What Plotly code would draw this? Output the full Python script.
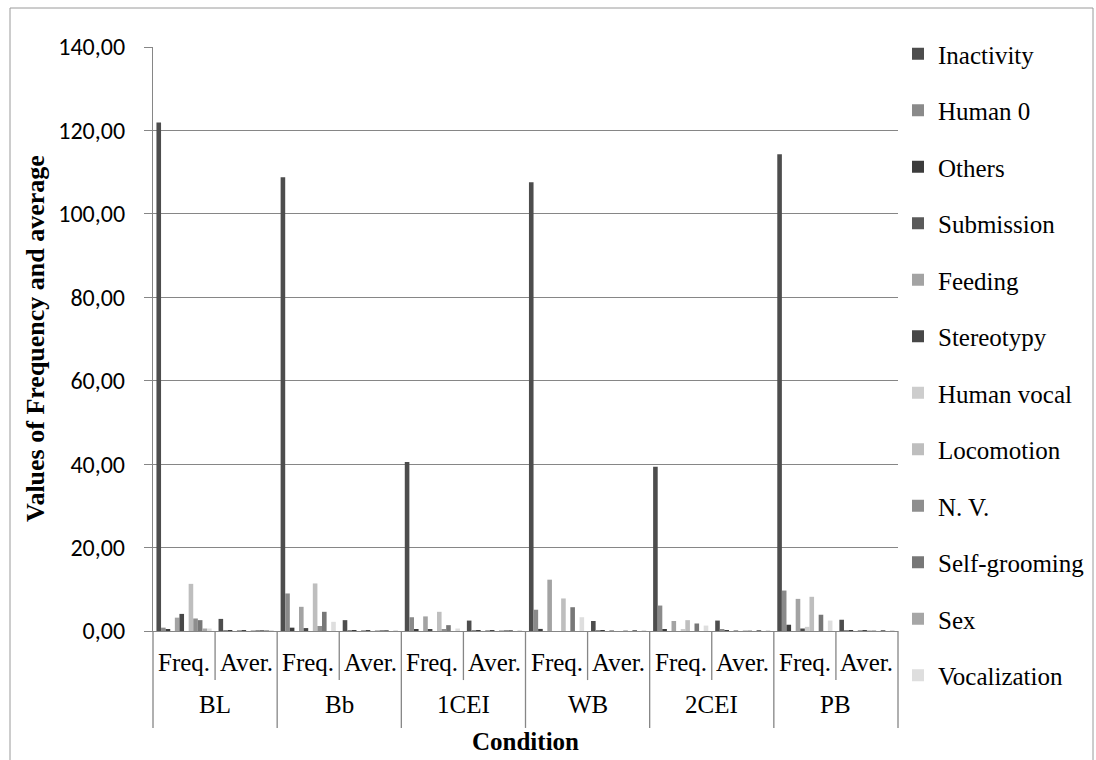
import plotly.graph_objects as go

# Observation conditions and the two measures recorded under each
conditions = ["BL", "Bb", "1CEI", "WB", "2CEI", "PB"]
measures = ["Freq.", "Aver."]

behaviours = ["Inactivity", "Human 0", "Others", "Submission", "Feeding", "Stereotypy",
              "Human vocal", "Locomotion", "N. V.", "Self-grooming", "Sex", "Vocalization"]

# Frequency per condition (BL, Bb, 1CEI, WB, 2CEI, PB)
inactivity_freq = [121.9, 108.8, 40.5, 107.6, 39.4, 114.3]
human0_freq = [0.8, 9.0, 3.3, 5.1, 6.1, 9.7]
others_freq = [0.4, 0.8, 0.3, 0.5, 0.25, 1.5]
submission_freq = [0.0, 0.0, 0.0, 0.0, 0.0, 0.0]
feeding_freq = [3.2, 5.8, 3.5, 12.3, 2.4, 7.7]
stereotypy_freq = [4.1, 0.7, 0.3, 0.0, 0.0, 0.6]
humanvocal_freq = [0.0, 0.0, 0.0, 0.0, 0.3, 1.0]
locomotion_freq = [11.3, 11.4, 4.6, 7.8, 2.6, 8.2]
nv_freq = [3.0, 1.2, 0.3, 0.0, 0.0, 0.0]
selfgrooming_freq = [2.6, 4.6, 1.4, 5.7, 1.8, 3.9]
sex_freq = [0.6, 0.0, 0.0, 0.0, 0.0, 0.0]
vocalization_freq = [0.6, 2.2, 0.6, 3.3, 1.3, 2.5]

# Average per condition
inactivity_aver = [2.9, 2.6, 2.5, 2.4, 2.5, 2.7]
human0_aver = [0.1, 0.2, 0.2, 0.1, 0.3, 0.2]
others_aver = [0.05, 0.05, 0.05, 0.05, 0.05, 0.05]
submission_aver = [0.0, 0.0, 0.0, 0.0, 0.0, 0.0]
feeding_aver = [0.1, 0.1, 0.1, 0.1, 0.1, 0.1]
stereotypy_aver = [0.05, 0.05, 0.05, 0.0, 0.0, 0.05]
humanvocal_aver = [0.0, 0.0, 0.0, 0.0, 0.05, 0.05]
locomotion_aver = [0.1, 0.1, 0.1, 0.1, 0.1, 0.1]
nv_aver = [0.1, 0.05, 0.05, 0.0, 0.0, 0.0]
selfgrooming_aver = [0.1, 0.1, 0.05, 0.1, 0.05, 0.1]
sex_aver = [0.05, 0.0, 0.0, 0.0, 0.0, 0.0]
vocalization_aver = [0.05, 0.1, 0.05, 0.1, 0.05, 0.1]

freq_series = [inactivity_freq, human0_freq, others_freq, submission_freq, feeding_freq,
               stereotypy_freq, humanvocal_freq, locomotion_freq, nv_freq,
               selfgrooming_freq, sex_freq, vocalization_freq]
aver_series = [inactivity_aver, human0_aver, others_aver, submission_aver, feeding_aver,
               stereotypy_aver, humanvocal_aver, locomotion_aver, nv_aver,
               selfgrooming_aver, sex_aver, vocalization_aver]

colors = ["#4d4d4d", "#8a8a8a", "#3c3c3c", "#5a5a5a", "#a3a3a3", "#474747",
          "#cdcdcd", "#bebebe", "#8e8e8e", "#777777", "#a6a6a6", "#dedede"]

y_ticks = [0, 20, 40, 60, 80, 100, 120, 140]

SERIF = "Liberation Serif, Times New Roman, serif"
SANS = "Carlito, Lato, sans-serif"
GRID = "#868686"

n_slots = len(conditions) * len(measures)
slot_pos = list(range(n_slots))

fig = go.Figure()
for name, color, fv, av in zip(behaviours, colors, freq_series, aver_series):
    values = []
    for f, a in zip(fv, av):
        values.extend([f, a])
    fig.add_trace(go.Bar(
        x=slot_pos, y=values, name=name, legendgroup=name,
        marker=dict(color=color, line=dict(width=0)),
    ))

# Two-level category labels and the separators hanging under the axis
annotations = []
shapes = []
for ci, cond in enumerate(conditions):
    for mi, meas in enumerate(measures):
        annotations.append(dict(
            x=(ci * len(measures) + mi + 0.5) / n_slots, y=-0.054, xref="paper", yref="paper",
            text=meas, showarrow=False, font=dict(family=SERIF, size=25, color="black"),
            xanchor="center", yanchor="middle"))
    annotations.append(dict(
        x=(ci * len(measures) + len(measures) / 2) / n_slots, y=-0.125, xref="paper", yref="paper",
        text=cond, showarrow=False, font=dict(family=SERIF, size=25, color="black"),
        xanchor="center", yanchor="middle"))

for b in range(n_slots + 1):
    long_line = b % len(measures) == 0
    shapes.append(dict(
        type="line", xref="paper", yref="paper",
        x0=b / n_slots, x1=b / n_slots, y0=0, y1=-0.166 if long_line else -0.084,
        line=dict(color=GRID, width=1.3)))

annotations.append(dict(
    x=0.5, y=-0.19, xref="paper", yref="paper", text="<b>Condition</b>", showarrow=False,
    font=dict(family=SERIF, size=25, color="black"), xanchor="center", yanchor="middle"))
annotations.append(dict(
    x=(35 - 153) / 745, y=0.5, xref="paper", yref="paper",
    text="<b>Values of Frequency and average</b>", showarrow=False, textangle=-90,
    font=dict(family=SERIF, size=26, color="black"), xanchor="center", yanchor="middle"))

# Outer chart frame
shapes.append(dict(
    type="rect", xref="paper", yref="paper",
    x0=(10 - 153) / 745, x1=(1093 - 153) / 745, y0=(631 - 775) / 584, y1=(631 - 8) / 584,
    line=dict(color="#9a9a9a", width=1), fillcolor="rgba(0,0,0,0)", layer="below"))

fig.update_layout(
    width=1096, height=760,
    margin=dict(l=153, r=198, t=47, b=129, autoexpand=False),
    paper_bgcolor="white", plot_bgcolor="white",
    barmode="group", bargap=1.5 / 13.5, bargroupgap=0,
    separators=", ",
    showlegend=True,
    legend=dict(
        x=(898 - 153) / 745, y=(631 - 31) / 584, xanchor="left", yanchor="top",
        font=dict(family=SERIF, size=25, color="black"),
        traceorder="grouped", tracegroupgap=21,
        bgcolor="rgba(0,0,0,0)", borderwidth=0,
        maxheight=740,
    ),
    xaxis=dict(range=[-0.5, n_slots - 0.5], showticklabels=False, showgrid=False,
               zeroline=False, showline=True, linecolor=GRID, linewidth=1.3, ticks=""),
    yaxis=dict(range=[0, 140], tickvals=y_ticks, tickformat=".2f",
               showgrid=True, gridcolor=GRID, gridwidth=1.3, zeroline=False,
               showline=True, linecolor=GRID, linewidth=1.3,
               ticks="outside", ticklen=8, tickcolor=GRID, tickwidth=1.3,
               ticklabelstandoff=14,
               tickfont=dict(family=SANS, size=24, color="black")),
    annotations=annotations,
    shapes=shapes,
)

fig.write_html("out.html")
